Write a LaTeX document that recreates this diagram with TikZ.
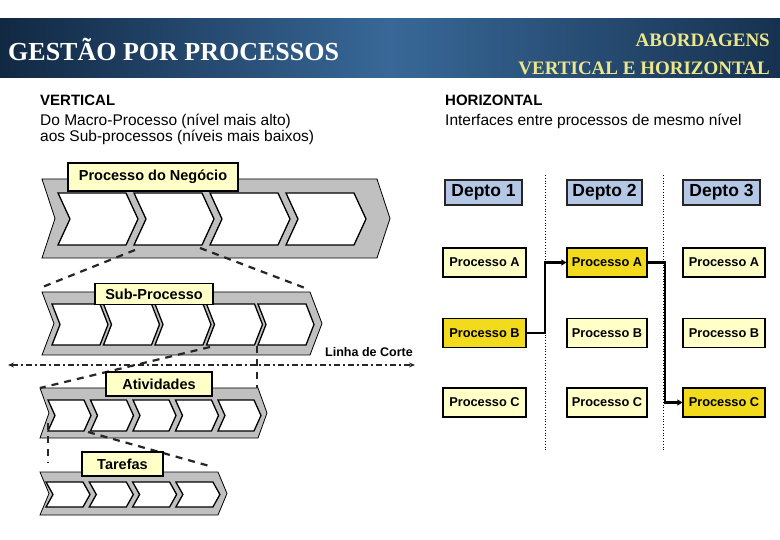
\documentclass[tikz,border=0pt]{standalone}
\usepackage{fontspec}
\setmainfont{Liberation Sans}
\newfontfamily\serifhead{Liberation Serif}
\usetikzlibrary{arrows.meta}
\definecolor{lightyel}{HTML}{FFFFC8}
\definecolor{hiyel}{HTML}{F2DA1C}
\definecolor{deptblue}{HTML}{B4C8E6}
\definecolor{chevgray}{HTML}{C0C0C0}
\definecolor{bannerdark}{HTML}{112843}
\definecolor{bannermid}{HTML}{386898}
\definecolor{titleyel}{HTML}{EDE78C}
\newcommand\mychev[6][]{%
  \path[#1] (#2,#3) -- ++(#4,0) -- ++(#6,#5/2) -- ++(-#6,#5/2) -- ++(-#4,0) -- ++(#6,-#5/2) -- cycle;}
\tikzset{
  outerchev/.style={fill=chevgray,draw=black,line width=0.8pt,line join=miter},
  innerchev/.style={fill=white,draw=black,line width=1.3pt,line join=miter},
  lvlbox/.style={fill=lightyel,draw=black,line width=1.1pt,inner sep=0pt,font=\bfseries\fontsize{14.5}{15}\selectfont},
  zoomline/.style={draw=black!85,line width=2.2pt,dash pattern=on 7pt off 6pt},
  cutline/.style={draw=black!85,line width=2pt,dash pattern=on 6pt off 3pt on 2pt off 3pt,
     {Stealth[length=6pt,width=5pt]}-{Stealth[length=6pt,width=5pt]}},
  deptbox/.style={fill=deptblue,draw=black!85,line width=1.8pt,minimum width=77pt,minimum height=25pt,inner sep=0pt,
     font=\bfseries\fontsize{17.5}{18}\selectfont},
  procbox/.style={fill=lightyel,draw=black,line width=1.2pt,minimum height=29pt,inner sep=0pt,
     font=\bfseries\fontsize{12.8}{13}\selectfont},
  hiproc/.style={procbox,fill=hiyel},
  sep/.style={draw=black,line width=0.8pt,dotted},
  flow/.style={draw=black,line width=2.4pt,-{Triangle[length=5pt,width=6pt]}},
  headtxt/.style={anchor=west,inner sep=0pt,font=\fontsize{15.5}{17}\selectfont},
  headbold/.style={anchor=west,inner sep=0pt,font=\bfseries\fontsize{15}{16}\selectfont}
}
\begin{document}
\begin{tikzpicture}[x=1pt,y=-1pt]
\useasboundingbox (0,0) rectangle (780,540);
\fill[white] (0,0) rectangle (780,540);
% banner
\shade[left color=bannerdark,right color=bannerdark!85!bannermid,middle color=bannermid] (0,19) rectangle (780,78);
\node[anchor=west,inner sep=0pt,text=white,font=\serifhead\bfseries\fontsize{26}{28}\selectfont] (title) at (8,49) {GESTÃO POR PROCESSOS};
\node[anchor=east,inner sep=0pt,text=titleyel,font=\serifhead\bfseries\fontsize{19}{20}\selectfont] (ab1) at (770,40) {ABORDAGENS};
\node[anchor=east,inner sep=0pt,text=titleyel,font=\serifhead\bfseries\fontsize{19}{20}\selectfont] (ab2) at (770,68) {VERTICAL E HORIZONTAL};
% headings
\node[headbold] (vt) at (40,100) {VERTICAL};
\node[headtxt] (vd1) at (40,121) {Do Macro-Processo (nível mais alto)};
\node[headtxt] (vd2) at (40,137) {aos Sub-processos (níveis mais baixos)};
\node[headbold] (ht) at (445,100) {HORIZONTAL};
\node[headtxt] (hd1) at (445,121) {Interfaces entre processos de mesmo nível};

% ===== vertical chevrons =====
% level 1
\mychev[outerchev]{42}{179}{335}{79}{13}
\foreach \i in {0,...,3} {\mychev[innerchev]{58+76*\i}{193}{68}{52}{12}}
% level 2
\mychev[outerchev]{42}{292}{268}{63}{12}
\foreach \i in {0,...,4} {\mychev[innerchev]{52+51.5*\i}{304}{48}{41}{8}}
% level 3
\mychev[outerchev]{40}{388}{218}{50}{9}
\foreach \i in {0,...,4} {\mychev[innerchev]{48+42.5*\i}{400}{36}{31}{7}}
% level 4
\mychev[outerchev]{40}{472}{178}{43}{9}
\foreach \i in {0,...,3} {\mychev[innerchev]{46+43.3*\i}{482}{37}{25}{7}}

% zoom coordinates
\coordinate (z1a) at (135,250); \coordinate (z1b) at (40,288);
\coordinate (z2a) at (200,248); \coordinate (z2b) at (305,288);
\coordinate (z3a) at (210,347); \coordinate (z3b) at (40,388);
\coordinate (z4a) at (257,346); \coordinate (z4b) at (257,388);
\coordinate (z5a) at (48,423);  \coordinate (z5b) at (48,463);
\coordinate (z6a) at (88,432);  \coordinate (z6b) at (213,467);
\coordinate (cl) at (8,365);    \coordinate (cr) at (415,365);

\draw[cutline] (cl) -- (cr);
\node[inner sep=0pt,font=\bfseries\fontsize{12.5}{13}\selectfont] (lc) at (369,352) {Linha de Corte};

\draw[zoomline] (z1a) -- (z1b);
\draw[zoomline] (z2a) -- (z2b);
\draw[zoomline] (z3a) -- (z3b);
\draw[zoomline] (z4a) -- (z4b);
\draw[zoomline] (z5a) -- (z5b);
\draw[zoomline] (z6a) -- (z6b);

% level labels
\node[lvlbox,minimum width=170pt,minimum height=28pt] (pn) at (153,177) {Processo do Negócio};
\node[lvlbox,minimum width=118pt,minimum height=21pt] (sp) at (154,294) {Sub-Processo};
\node[lvlbox,minimum width=106pt,minimum height=24pt] (at) at (159,384) {Atividades};
\node[lvlbox,minimum width=81pt,minimum height=24pt] (tf) at (122.5,464) {Tarefas};

% ===== horizontal =====
\coordinate (s1t) at (545,175); \coordinate (s1b) at (545,452);
\coordinate (s2t) at (663,175); \coordinate (s2b) at (663,452);
\draw[sep] (s1t) -- (s1b);
\draw[sep] (s2t) -- (s2b);

\node[deptbox] (d1) at (483.5,192.5) {Depto 1};
\node[deptbox,minimum width=75pt] (d2) at (604.5,192.5) {Depto 2};
\node[deptbox] (d3) at (721.5,192.5) {Depto 3};

\node[procbox,minimum width=83pt] (p1a) at (484.5,262.5) {Processo A};
\node[hiproc,minimum width=83pt]  (p1b) at (484.5,333) {Processo B};
\node[procbox,minimum width=83pt] (p1c) at (484.5,402.5) {Processo C};
\node[hiproc,minimum width=80pt]  (p2a) at (607,262.5) {Processo A};
\node[procbox,minimum width=80pt] (p2b) at (607,333) {Processo B};
\node[procbox,minimum width=80pt] (p2c) at (607,402.5) {Processo C};
\node[procbox,minimum width=82pt] (p3a) at (724,262.5) {Processo A};
\node[procbox,minimum width=82pt] (p3b) at (724,333) {Processo B};
\node[hiproc,minimum width=82pt]  (p3c) at (724,402.5) {Processo C};

\coordinate (j1) at (545,0);
\coordinate (j2) at (665,0);
\draw[flow] (p1b.east) -- (p1b.east -| j1) |- (p2a.west);
\draw[flow] (p2a.east) -- (p2a.east -| j2) |- (p3c.west);
\end{tikzpicture}
\end{document}
